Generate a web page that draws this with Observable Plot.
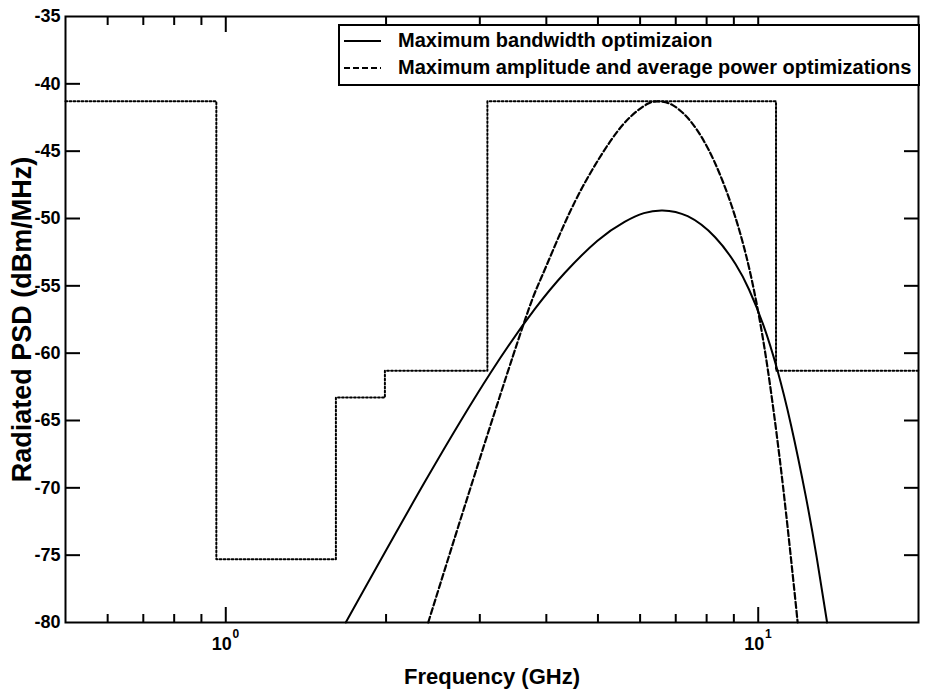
<!DOCTYPE html>
<html>
<head>
<meta charset="utf-8">
<script src="https://cdn.jsdelivr.net/npm/d3@7"></script>
<script src="https://cdn.jsdelivr.net/npm/@observablehq/plot@0.6"></script>
<style>
  html, body { margin: 0; padding: 0; background: #fff; }
  #wrap { position: relative; width: 929px; height: 695px; font-family: "Liberation Sans", Arial, sans-serif; }
  #legend { position: absolute; left: 338px; top: 24px; width: 578px; height: 58px; border: 2px solid #000; background: #fff; box-sizing: content-box; }
  .row { position: absolute; left: 0; display: flex; align-items: center; font-weight: bold; font-size: 20px; color: #000; white-space: nowrap; }
  .row svg { margin-left: 4px; margin-right: 17px; }
</style>
</head>
<body>
<div id="wrap">
  <div id="chart"></div>
  <div id="legend">
    <div class="row" style="top:3px"><svg width="37" height="10"><line x1="0" y1="5" x2="37" y2="5" stroke="#000" stroke-width="2"/></svg><span id="leg1"></span></div>
    <div class="row" style="top:30px"><svg width="37" height="10"><line x1="0" y1="5" x2="37" y2="5" stroke="#000" stroke-width="2" stroke-dasharray="6 3"/></svg><span id="leg2"></span></div>
  </div>
</div>
<script>
// ---- data ----
const seriesNames = ["Maximum bandwidth optimizaion", "Maximum amplitude and average power optimizations"];

// emission mask (dotted); each level starts at its frequency
const maskFreq  = [0.5, 0.96, 1.61, 1.99, 3.1, 10.8, 20];
const maskLevel = [-41.3, -75.3, -63.3, -61.3, -41.3, -61.3, -61.3];

// solid: maximum bandwidth optimization
const bwFreq = [1.68, 2.37, 3.15, 3.81, 4.33, 4.99, 5.61, 6.1, 6.61, 7.37, 8.30, 9.07, 9.61, 10.23, 10.85, 11.52, 12.29, 12.88, 13.47];
const bwPsd  = [-80, -69.5, -61.4, -56.7, -54.05, -51.65, -50.25, -49.6, -49.4, -49.83, -51.39, -53.4, -55.27, -57.94, -61.18, -65.31, -70.67, -75.18, -80];

// dashed: maximum amplitude and average power optimizations
const ampFreq = [2.40, 2.93, 3.61, 3.92, 4.32, 4.76, 5.28, 5.75, 6.2, 6.5, 6.92, 7.56, 8.26, 8.92, 9.46, 9.91, 10.39, 10.89, 11.27, 11.61, 11.86];
const ampPsd  = [-80, -69.1, -58.05, -54.33, -50.45, -47.12, -44.24, -42.46, -41.48, -41.3, -41.6, -43.06, -45.72, -49.09, -52.53, -56.13, -60.85, -66.77, -71.76, -76.47, -80];

// axes
const xDomain = [0.5, 20];
const yDomain = [-80, -35];
const xMinorTicks = [0.6, 0.7, 0.8, 0.9, 2, 3, 4, 5, 6, 7, 8, 9];
const xMajorTicks = [1, 10];
const xMajorExp = ["0", "1"];
const yTickLabels = [-35, -40, -45, -50, -55, -60, -65, -70, -75, -80];
const yTickMarks = [-40, -45, -50, -55, -60, -65, -70, -75];
const xLabel = "Frequency (GHz)";
const yLabel = "Radiated PSD (dBm/MHz)";

// ---- build ----
const W = 929, H = 695, mL = 65, mR = 11, mT = 16, mB = 73;
const plotW = W - mL - mR, plotH = H - mT - mB;

const mask = maskFreq.map((f, i) => ({f, v: maskLevel[i]}));
const bw = bwFreq.map((f, i) => ({f, v: bwPsd[i]}));
const amp = ampFreq.map((f, i) => ({f, v: ampPsd[i]}));
const majors = xMajorTicks.map((t, i) => ({t, e: xMajorExp[i]}));

const bold = {fontWeight: "bold", fill: "#000"};

const chart = Plot.plot({
  width: W, height: H,
  marginLeft: mL, marginRight: mR, marginTop: mT, marginBottom: mB,
  x: {type: "log", domain: xDomain, axis: null},
  y: {domain: yDomain, axis: null},
  style: {fontFamily: "'Liberation Sans', Arial, sans-serif", background: "#fff", color: "#000", overflow: "visible"},
  marks: [
    Plot.line(mask, {x: "f", y: "v", curve: "step-after", stroke: "#000", strokeWidth: 2, strokeDasharray: "1.8 2.2"}),
    Plot.line(bw, {x: "f", y: "v", curve: "natural", stroke: "#000", strokeWidth: 2}),
    Plot.line(amp, {x: "f", y: "v", curve: "natural", stroke: "#000", strokeWidth: 2.2, strokeDasharray: "6 3"}),
    Plot.frame({stroke: "#000", strokeWidth: 2}),
    // inward ticks: bottom & top
    Plot.ruleX(xMinorTicks, {x: d => d, insetTop: plotH - 8, stroke: "#000", strokeWidth: 2}),
    Plot.ruleX(xMinorTicks, {x: d => d, insetBottom: plotH - 9, stroke: "#000", strokeWidth: 2}),
    Plot.ruleX(xMajorTicks, {x: d => d, insetTop: plotH - 15, stroke: "#000", strokeWidth: 2}),
    Plot.ruleX(xMajorTicks, {x: d => d, insetBottom: plotH - 16, stroke: "#000", strokeWidth: 2}),
    // inward ticks: left & right
    Plot.ruleY(yTickMarks, {y: d => d, insetRight: plotW - 15, stroke: "#000", strokeWidth: 2}),
    Plot.ruleY(yTickMarks, {y: d => d, insetLeft: plotW - 14, stroke: "#000", strokeWidth: 2}),
    // y tick labels
    Plot.text(yTickLabels, {y: d => d, frameAnchor: "left", dx: -5, textAnchor: "end", text: d => String(d), fontSize: 18, ...bold}),
    // x tick labels 10^n
    Plot.text(majors, {x: "t", frameAnchor: "bottom", dx: -4, dy: 27, text: () => "10", fontSize: 18, ...bold}),
    Plot.text(majors, {x: "t", frameAnchor: "bottom", dx: 10, dy: 15, text: "e", fontSize: 12, ...bold}),
    // axis titles
    Plot.text([xLabel], {frameAnchor: "bottom", dy: 61, text: d => d, fontSize: 22, ...bold}),
    Plot.text([yLabel], {frameAnchor: "left", dx: -43, rotate: -90, textAnchor: "middle", text: d => d, fontSize: 27, ...bold})
  ]
});
document.getElementById("chart").appendChild(chart);
document.getElementById("leg1").textContent = seriesNames[0];
document.getElementById("leg2").textContent = seriesNames[1];
</script>
</body>
</html>
